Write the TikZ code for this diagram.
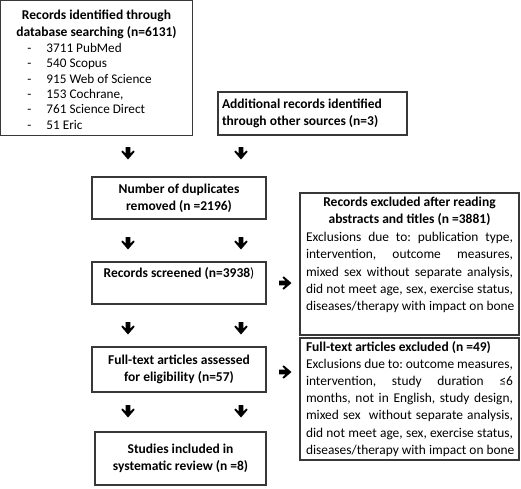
\documentclass[tikz,border=0pt]{standalone}
\usepackage{fontspec}
\setmainfont{Carlito}
\frenchspacing
\newcommand\lstitem[1]{\hspace*{27pt}\makebox[19pt][l]{-}#1\par}
\newcommand\jline[1]{\hspace*{6pt}\makebox[207pt][s]{#1}\par}
\newcommand\lline[1]{\hspace*{6pt}#1\par}
\newcommand\tsize{\fontsize{13.5pt}{17pt}\selectfont}
\newcommand\bsize{\fontsize{13.4pt}{17.2pt}\selectfont}
\begin{document}
\begin{tikzpicture}[x=1pt,y=-1pt,
  box/.style={draw=black!78, line width=1.1pt, inner sep=0pt, outer sep=0pt, anchor=north west},
  darr/.pic={\fill[black] (-2.3,0) -- (2.3,0) -- (2.3,6.6) -- (5.4,3.5) -- (6.6,4.8) -- (0,12.5) -- (-6.6,4.8) -- (-5.4,3.5) -- (-2.3,6.6) -- cycle;},
  rarr/.pic={\fill[black] (0,-2.3) -- (6.6,-2.3) -- (3.5,-5.4) -- (4.8,-6.6) -- (12.5,0) -- (4.8,6.6) -- (3.5,5.4) -- (6.6,2.3) -- (0,2.3) -- cycle;}]
\useasboundingbox (0,0) rectangle (521,488);
\fill[white] (0,0) rectangle (521,488);

\node[box] (db) at (0.5,0.5) {\parbox[c][135pt][t]{192pt}{\vspace*{10pt}\centering\bfseries\tsize
Records identified through\\database searching (n=6131)\par
\raggedright\mdseries\fontsize{13.2pt}{15.4pt}\selectfont
\lstitem{3711 PubMed}\lstitem{540 Scopus}\lstitem{915 Web of Science}\lstitem{153 Cochrane,}\lstitem{761 Science Direct}\lstitem{51 Eric}}};

\node[box] (other) at (218,92) {\parbox[c][43pt][c]{189pt}{\raggedright\bfseries\tsize
\hspace*{4pt}Additional records identified\\\hspace*{4pt}through other sources (n=3)}};

\node[box] (dup) at (92,177) {\parbox[c][42pt][c]{174pt}{\centering\bfseries\tsize
Number of duplicates\\removed (n =2196)}};

\node[box] (scr) at (92,262) {\parbox[c][42pt][t]{174pt}{\vspace*{5pt}\centering\tsize
{\bfseries Records screened (n=3938}){}}};

\node[box] (full) at (92,347) {\parbox[c][45pt][c]{174pt}{\centering\bfseries\tsize
Full-text articles assessed\\for eligibility (n=57)}};

\node[box] (inc) at (95,432) {\parbox[c][53pt][c]{171pt}{\centering\bfseries\tsize
Studies included in\\systematic review (n =8)}};

\node[box] (exA) at (300,193) {\parbox[c][142pt][t]{219pt}{\vspace*{4pt}\centering\bfseries\tsize
Records excluded after reading\\abstracts and titles (n =3881)\par\vspace{1pt}
\raggedright\mdseries\bsize
\jline{Exclusions due to: publication type,}
\jline{intervention, outcome measures,}
\jline{mixed sex without separate analysis,}
\jline{did not meet age, sex, exercise status,}
\lline{diseases/therapy with impact on bone}}};

\node[box] (exB) at (300,338) {\parbox[c][122pt][t]{219pt}{\vspace*{3pt}\raggedright\bfseries\tsize
\hspace*{6pt}Full-text articles excluded (n =49)\par
\mdseries\bsize
\jline{Exclusions due to: outcome measures,}
\jline{intervention, study duration ≤6}
\jline{months, not in English, study design,}
\jline{mixed sex \ without separate analysis,}
\jline{did not meet age, sex, exercise status,}
\lline{diseases/therapy with impact on bone}}};

\path (128,147) pic {darr} (241,147) pic {darr};
\path (128,237) pic {darr} (241,237) pic {darr};
\path (128,322) pic {darr} (241,322) pic {darr};
\path (128,405) pic {darr} (241,405) pic {darr};
\path (279,283) pic {rarr} (279,372) pic {rarr};
\end{tikzpicture}
\end{document}
